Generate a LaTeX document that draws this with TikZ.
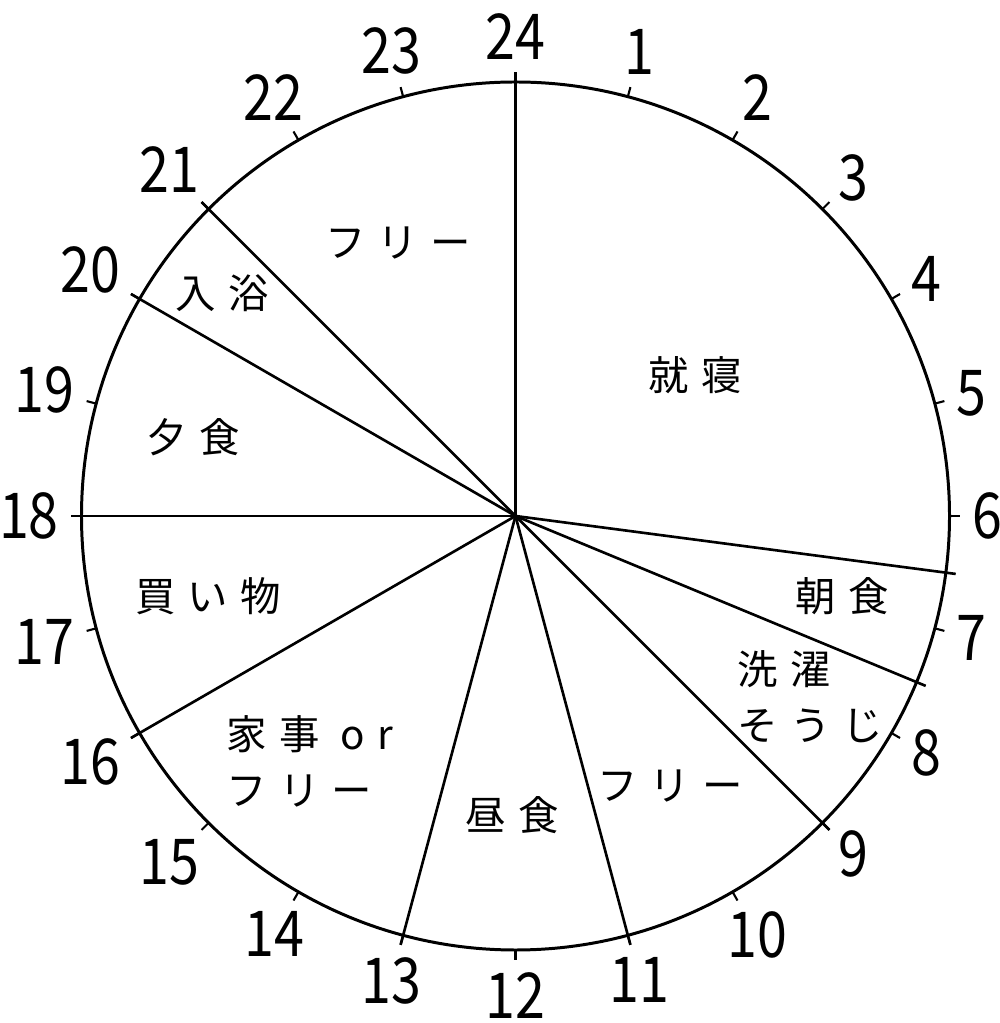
\documentclass[tikz,border=0pt]{standalone}
\usepackage{fontspec}
\setmainfont{Noto Sans CJK JP}
\newfontfamily\numfont[FakeStretch=0.85]{Noto Sans CJK JP}
\newfontfamily\jpfont[LetterSpace=30]{Noto Sans CJK JP}
\usepackage{tikz}
\tikzstyle{rim} = [line width=0.85pt]
\tikzstyle{spoke} = [line width=0.75pt]
\tikzstyle{hourtick} = [line width=0.6pt]
\tikzstyle{hourlabel} = [inner sep=0pt, font=\numfont\fontsize{18}{18}\selectfont]
\tikzstyle{task} = [inner sep=0pt, align=left, font=\jpfont\fontsize{11.5}{14}\selectfont]

\begin{document}
\begin{tikzpicture}
\useasboundingbox (-5.155,-5.07) rectangle (4.835,5.16);
\coordinate (c) at (0,0);
\draw[rim] (c) circle (4.34);
\foreach \h [evaluate=\h as \a using {90-15*\h},
             evaluate=\h as \an using {int(mod(630-15*\h,360))}] in {1,...,24} {
  \draw[hourtick] (\a:4.34) -- (\a:4.44);
  \node[hourlabel, anchor=\an] (h\h) at (\a:4.56) {\h};
}
\foreach \t in {0,6.5,7.5,9,11,13,16,18,20,21}
  \draw[spoke] (c) -- ({90-15*\t}:4.44);
\node[task] (sleep) at (1.795,1.41) {就寝};
\node[task] (breakfast) at (3.265,-0.80) {朝食};
\node[task, anchor=west] (wash) at (2.215,-1.81) {洗濯\\[2pt]そうじ};
\node[task] (free1) at (-1.175,2.73) {フリー};
\node[task] (bath) at (-2.935,2.23) {入浴};
\node[task] (dinner) at (-3.225,0.79) {夕食};
\node[task] (shop) at (-3.075,-0.80) {買い物};
\node[task, anchor=west] (chores) at (-2.895,-2.45) {家事 or\\[2pt]フリー};
\node[task] (lunch) at (-0.035,-2.99) {昼食};
\node[task] (free2) at (1.545,-2.70) {フリー};
\end{tikzpicture}
\end{document}
